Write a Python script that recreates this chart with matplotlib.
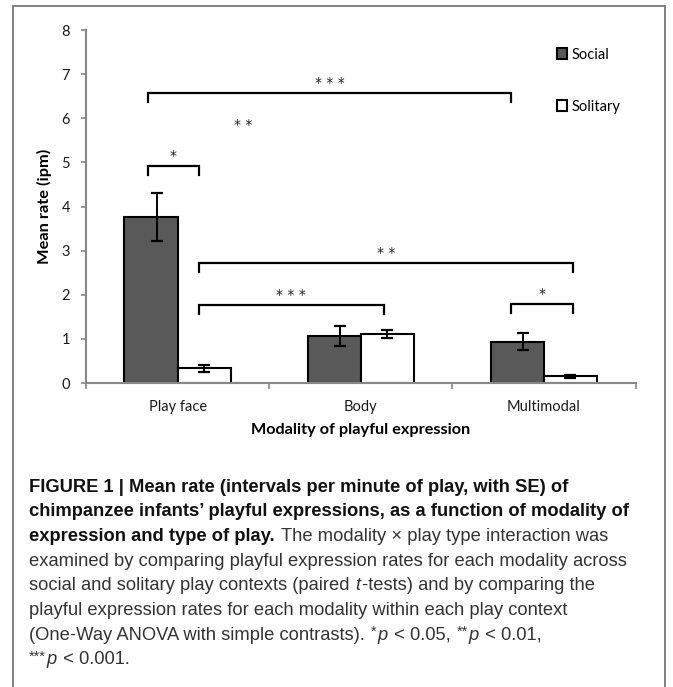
import numpy as np
from matplotlib import pyplot as plt
from matplotlib import font_manager
from matplotlib.patches import Patch, Rectangle

# values
categories = ['Play face', 'Body', 'Multimodal']
social = [3.76, 1.07, 0.94]
social_se = [0.54, 0.23, 0.19]
solitary = [0.33, 1.11, 0.15]
solitary_se = [0.08, 0.10, 0.03]

# significance brackets: (x start, x end, height, label)
brackets = [(-0.16, 1.82, 6.57, '***'),
            (-0.16, 0.115, 4.92, '*'),
            (0.115, 2.16, 2.72, '**'),
            (0.115, 1.125, 1.77, '***'),
            (1.82, 2.16, 1.79, '*')]
loose_star = (0.36, 5.89, '**')

W, H = 673, 687
fig = plt.figure(figsize=(W / 100, H / 100), dpi=100)

avail = set(f.name for f in font_manager.fontManager.ttflist)
chart_font = 'Lato' if 'Lato' in avail else 'DejaVu Sans'
cap_font = 'Liberation Sans Narrow' if 'Liberation Sans Narrow' in avail else 'Liberation Sans'

ax = fig.add_axes([86 / W, 1 - 383 / H, 549.5 / W, 353 / H])
x = np.arange(len(categories))
bw = 0.29
ax.bar(x - bw / 2, social, bw, color='#595959', edgecolor='black', linewidth=1.5, zorder=2)
ax.bar(x + bw / 2, solitary, bw, color='white', edgecolor='black', linewidth=1.5, zorder=2)
ax.errorbar(x - bw / 2 + 0.03, social, yerr=social_se, fmt='none', ecolor='black',
            elinewidth=1.4, capsize=4, capthick=1.6, zorder=3)
ax.errorbar(x + bw / 2, solitary, yerr=solitary_se, fmt='none', ecolor='black',
            elinewidth=1.4, capsize=4, capthick=1.6, zorder=3)

star_kw = dict(fontsize=10, family='DejaVu Sans', color='#222222')
for x1, x2, yb, lab in brackets:
    ax.plot([x1, x1, x2, x2], [yb - 0.2, yb, yb, yb - 0.2], color='black', lw=1.6,
            solid_joinstyle='miter', zorder=3)
    ax.text((x1 + x2) / 2, yb + 0.22, ' '.join(lab), ha='center', va='center', **star_kw)
ax.text(loose_star[0], loose_star[1] - 0.05, ' '.join(loose_star[2]), ha='center',
        va='center', **star_kw)

ax.set_xlim(-0.5, 2.5)
ax.set_ylim(0, 8)
ax.set_yticks(range(0, 9))
ax.set_xticks([-0.5, 0.5, 1.5, 2.5])
ax.set_xticklabels([])
ax.set_xticks(x, minor=True)
ax.set_xticklabels(categories, minor=True)
ax.tick_params(axis='x', which='minor', length=0, pad=12)
ax.tick_params(axis='x', which='major', length=4, color='#888888', width=1.2)
ax.tick_params(axis='y', length=3.5, color='#888888', width=1.2, pad=8)
for lab in ax.get_xticklabels(minor=True) + ax.get_yticklabels():
    lab.set_fontfamily(chart_font)
    lab.set_fontsize(10.5)
    lab.set_color('#1a1a1a')
for s in ['top', 'right']:
    ax.spines[s].set_visible(False)
for s in ['left', 'bottom']:
    ax.spines[s].set_color('#888888')
    ax.spines[s].set_linewidth(1.5)

ax.set_ylabel('Mean rate (ipm)', fontsize=11.8, fontweight='bold', family=chart_font)
ax.yaxis.set_label_coords(-0.062, 0.5)
ax.set_xlabel('Modality of playful expression', fontsize=11.7, fontweight='bold',
              family=chart_font)
ax.xaxis.set_label_coords(0.5, -0.112)

handles = [Patch(facecolor='#595959', edgecolor='black', linewidth=1.5, label='Social'),
           Patch(facecolor='white', edgecolor='black', linewidth=1.5, label='Solitary')]
ax.legend(handles=handles, loc='upper left', bbox_to_anchor=(0.857, 0.95), frameon=False,
          borderpad=0, borderaxespad=0, handlelength=0.7, handleheight=0.7,
          handletextpad=0.3, labelspacing=2.6, prop={'family': chart_font, 'size': 10.5})

# frame around the panel
fig.patches.append(Rectangle((13 / W, -0.05), (665 - 13) / W, 1.05 - 6 / H,
                             transform=fig.transFigure, fill=False,
                             edgecolor='#777777', linewidth=1.3))

# caption, line by line
renderer = fig.canvas.get_renderer()
cap_size = 13.2
space = 0.27 * cap_size * 100 / 72


def put_line(yc, runs):
    px = 29
    for txt, weight, style, lift in runs:
        if txt == ' ':
            px += space
            continue
        t = fig.text(px / W, 1 - (yc - lift) / H, txt, fontsize=cap_size * (0.8 if lift else 1),
                     fontweight=weight, fontstyle=style, family=cap_font,
                     ha='left', va='center', color='#111111' if weight == 'bold' else '#333333')
        bb = t.get_window_extent(renderer)
        px = bb.x1 + 1


B, N, I, S = 'bold', 'normal', 'italic', ' '
lines = [
    [('FIGURE 1 | Mean rate (intervals per minute of play, with SE) of', B, 'normal', 0)],
    [('chimpanzee infants\u2019 playful expressions, as a function of modality of', B, 'normal', 0)],
    [('expression and type of play.', B, 'normal', 0), (S, N, N, 0),
     ('The modality \u00d7 play type interaction was', N, 'normal', 0)],
    [('examined by comparing playful expression rates for each modality across', N, 'normal', 0)],
    [('social and solitary play contexts (paired', N, 'normal', 0), (S, N, N, 0),
     ('t', N, I, 0), ('-tests) and by comparing the', N, 'normal', 0)],
    [('playful expression rates for each modality within each play context', N, 'normal', 0)],
    [('(One-Way ANOVA with simple contrasts).', N, 'normal', 0), (S, N, N, 0),
     ('*', N, 'normal', 3), ('p', N, I, 0), (' < 0.05,', N, 'normal', 0), (S, N, N, 0),
     ('**', N, 'normal', 3), ('p', N, I, 0), (' < 0.01,', N, 'normal', 0)],
    [('***', N, 'normal', 3), ('p', N, I, 0), (' < 0.001.', N, 'normal', 0)],
]
for i, runs in enumerate(lines):
    put_line(487 + 24.7 * i, runs)

fig.savefig('out.png', dpi=100)
